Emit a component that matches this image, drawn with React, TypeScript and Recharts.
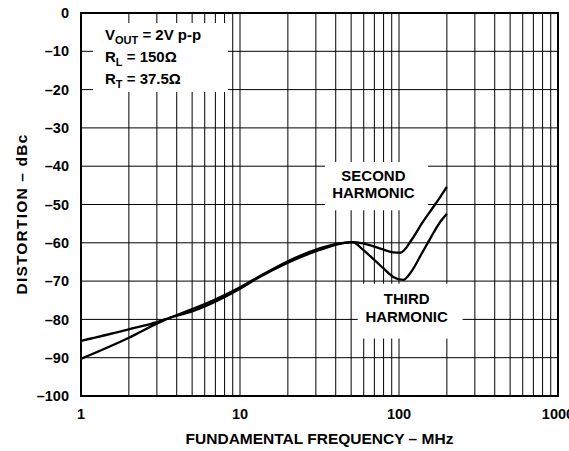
import React from 'react';
import { LineChart, Line, XAxis, YAxis, CartesianGrid, ReferenceArea } from 'recharts';

// frequency grid (MHz), log axis
const freqTicks = [
  1, 2, 3, 4, 5, 6, 7, 8, 9, 10,
  20, 30, 40, 50, 60, 70, 80, 90, 100,
  200, 300, 400, 500, 600, 700, 800, 900, 1000
];
const decadeLabels = [1, 10, 100, 1000];
const dbTicks = [0, -10, -20, -30, -40, -50, -60, -70, -80, -90, -100];

// second harmonic
const secondFreq = [1, 2, 3, 3.66, 5, 6, 10, 12.7, 20, 32, 41, 51, 60, 80, 92, 102, 121, 139, 159, 182, 200];
const secondDb = [-85.6, -82.6, -80.7, -79.5, -77.9, -76.6, -72.0, -69.4, -65.2, -61.8, -60.4, -59.8, -60.2, -61.8, -62.5, -62.6, -59.0, -55.0, -51.5, -48.0, -45.4];

// third harmonic
const thirdFreq = [1, 2, 3, 3.66, 5, 6, 10, 12.7, 20, 32, 41, 51, 60, 80, 92, 106, 121, 139, 159, 182, 200];
const thirdDb = [-90.3, -84.8, -81.1, -79.5, -77.3, -76.0, -71.6, -69.2, -64.8, -61.4, -60.2, -59.8, -62.0, -66.7, -68.9, -69.7, -67.2, -62.8, -58.5, -54.5, -52.4];

const secondData = secondFreq.map((f, i) => ({ f, db: secondDb[i] }));
const thirdData = thirdFreq.map((f, i) => ({ f, db: thirdDb[i] }));

const FONT = '"Liberation Sans", Arial, Helvetica, sans-serif';
const txt = { fontFamily: FONT, fontWeight: 700, fill: '#000' };

const dash = (v: number) => (v < 0 ? '\u2013' + Math.abs(v) : String(v));

const ConditionsLabel = ({ viewBox }: any) => {
  const x = viewBox.x + 12;
  const y = viewBox.y;
  return (
    <g fontSize={15}>
      <text x={x} y={y + 17.5} {...txt}>
        V<tspan dy={4} fontSize={11}>OUT</tspan>
        <tspan dy={-4}> = 2V p-p</tspan>
      </text>
      <text x={x} y={y + 39} {...txt}>
        R<tspan dy={4} fontSize={11}>L</tspan>
        <tspan dy={-4}> = 150Ω</tspan>
      </text>
      <text x={x} y={y + 61} {...txt}>
        R<tspan dy={4} fontSize={11}>T</tspan>
        <tspan dy={-4}> = 37.5Ω</tspan>
      </text>
    </g>
  );
};

const twoLine = (a: string, b: string, top: number, dx: number) => ({ viewBox }: any) => {
  const cx = viewBox.x + viewBox.width / 2 + dx;
  return (
    <g fontSize={15}>
      <text x={cx} y={viewBox.y + top} textAnchor="middle" {...txt}>{a}</text>
      <text x={cx} y={viewBox.y + top + 17.5} textAnchor="middle" {...txt}>{b}</text>
    </g>
  );
};

export default function App() {
  return (
    <div style={{ position: 'absolute', left: 0, top: 0, width: 569, height: 451, background: '#fff' }}>
      <LineChart
        width={569}
        height={451}
        margin={{ top: 13, right: 11, bottom: 0, left: 0 }}
      >
        <CartesianGrid stroke="#000" strokeWidth={1} />
        <XAxis
          dataKey="f"
          type="number"
          scale="log"
          domain={[1, 1000]}
          ticks={freqTicks}
          interval={0}
          allowDataOverflow
          axisLine={false}
          tickLine={false}
          tickSize={0}
          tickMargin={13}
          height={55}
          tick={{ ...txt, fontSize: 14.5 }}
          tickFormatter={(v: number) => (decadeLabels.includes(v) ? String(v) : '')}
          label={{
            content: ({ viewBox }: any) => (
              <text x={viewBox.x + viewBox.width / 2} y={444} textAnchor="middle" fontSize={15.5} {...txt}>
                FUNDAMENTAL FREQUENCY – MHz
              </text>
            ),
          }}
        />
        <YAxis
          type="number"
          domain={[-100, 0]}
          ticks={dbTicks}
          interval={0}
          width={81}
          axisLine={false}
          tickLine={false}
          tickSize={0}
          tickMargin={12}
          tick={{ ...txt, fontSize: 14.5 }}
          tickFormatter={dash}
          label={{
            content: () => (
              <text x={27} y={214} transform="rotate(-90 27 214)" textAnchor="middle" fontSize={15.5} letterSpacing={1.2} {...txt}>
                DISTORTION – dBc
              </text>
            ),
          }}
        />
        <ReferenceArea x1={1.19} x2={8.4} y1={-20.6} y2={-2.6} fill="#fff" fillOpacity={1} stroke="none" label={{ content: ConditionsLabel }} />
        <ReferenceArea x1={34.2} x2={152} y1={-51.5} y2={-38.9} fill="#fff" fillOpacity={1} stroke="none" label={{ content: twoLine('SECOND', 'HARMONIC', 19, -3) }} />
        <ReferenceArea x1={55} x2={251} y1={-85} y2={-70.7} fill="#fff" fillOpacity={1} stroke="none" label={{ content: twoLine('THIRD', 'HARMONIC', 20.5, -3.5) }} />
        <ReferenceArea x1={1} x2={1000} y1={-100} y2={0} fill="none" stroke="#000" strokeWidth={2} />
        <Line data={secondData} dataKey="db" type="monotone" stroke="#000" strokeWidth={2.3} dot={false} isAnimationActive={false} />
        <Line data={thirdData} dataKey="db" type="monotone" stroke="#000" strokeWidth={2.3} dot={false} isAnimationActive={false} />
      </LineChart>
    </div>
  );
}
